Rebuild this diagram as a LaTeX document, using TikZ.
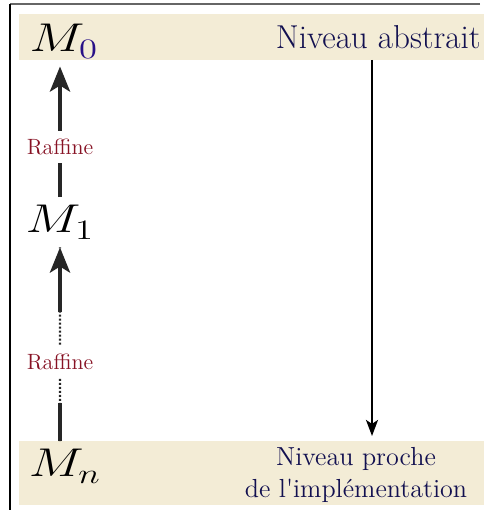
\RequirePackage{fix-cm}
\documentclass[tikz,border=0pt]{standalone}
\usepackage{graphicx}
\usepackage{xcolor}
\usepackage{tikz}
\usetikzlibrary{positioning, arrows.meta}

\definecolor{bandbeige}{RGB}{243,236,214}
\definecolor{niveaublue}{RGB}{18,16,80}
\definecolor{raffred}{RGB}{135,18,36}
\definecolor{indexblue}{RGB}{40,16,135}

\newcommand{\grandM}[1]{\scalebox{1.3}[1]{$#1$}}

\tikzset{
  modele/.style={inner sep=4pt, anchor=base, font=\fontsize{20}{24}\selectfont},
  niveau/.style={text=niveaublue, inner sep=0pt},
  raffine/.style={text=raffred, fill=white, inner sep=4pt, font=\fontsize{11}{13}\selectfont},
  refarrow/.style={black!85, line width=2pt, -{Stealth[length=12.5pt, width=10pt, inset=3pt]}},
  refline/.style={black!85, line width=2pt},
  descarrow/.style={black, line width=1pt, -{Stealth[length=8pt, width=6pt, inset=2pt]}, shorten >=2.5pt}
}

\begin{document}
\begin{tikzpicture}[scale=0.7]
\useasboundingbox (0,0) rectangle (12.1,12.75);
% cadre
\draw[black!60, line width=1pt] (12,12.65) -- (0.25,12.65);
\draw[black, line width=0.75pt] (0.25,12.65) -- (0.25,0);
% bandes
\fill[bandbeige] (0.475,11.25) rectangle (12.1,12.4);
\fill[bandbeige] (0.475,0.125) rectangle (12.1,1.725);
% modeles
\node[modele] (M0) at (1.6,11.45) {\grandM{M_{\textcolor{indexblue}{0}}}};
\node[modele] (M1) at (1.5,6.925) {\grandM{M_1}};
\node[modele] (Mn) at (1.625,0.825) {\grandM{M_n}};
% niveaux
\node[niveau, anchor=base east, font=\fontsize{16.5}{19}\selectfont] (abstrait) at (12.025,11.525) {Niveau abstrait};
\node[niveau, align=center, font=\fontsize{13}{15.5}\selectfont] (proche) at (8.9,0.875) {Niveau proche\\de l\textquotesingle implémentation};
% raffinements
\draw[refarrow] (M1.north) -- node[raffine, pos=0.38] (raf1) {Raffine} (M1.north |- M0.south);
\coordinate (bas) at (Mn.north -| M1.north);
\draw[black!85, line width=1pt, densely dotted] (bas) -- node[raffine, pos=0.41] (raf2) {Raffine} (M1.south);
\draw[refline] (bas) -- ++(0,0.95);
\draw[refarrow] (M1.south) ++(0,-1.625) -- (M1.south);
% descente
\coordinate (depart) at (9.3,11.25);
\coordinate (arrivee) at (9.3,1.725);
\draw[descarrow] (depart) -- (arrivee);
\end{tikzpicture}
\end{document}
